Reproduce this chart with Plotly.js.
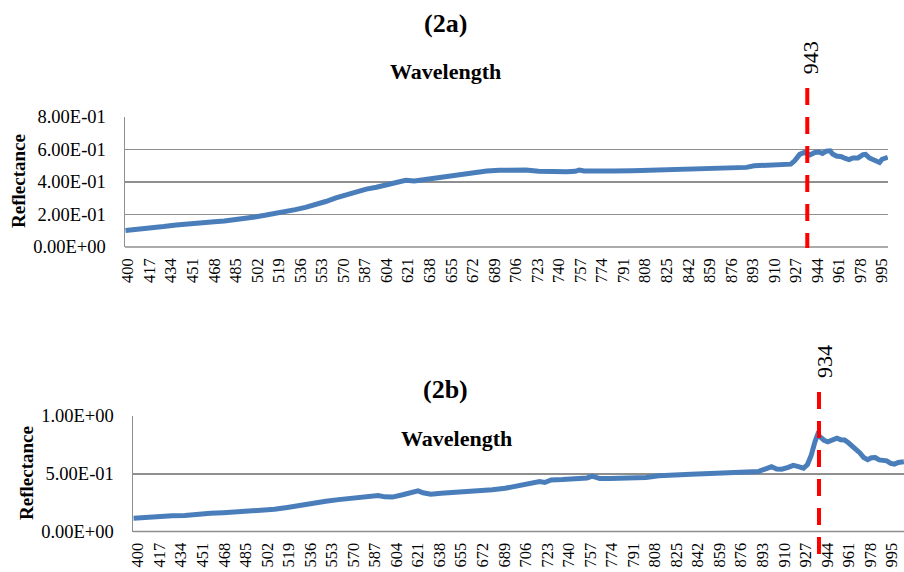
<!DOCTYPE html>
<html>
<head>
<meta charset="utf-8">
<script src="https://cdn.plot.ly/plotly-3.0.1.min.js"></script>
<style>html,body{margin:0;padding:0;background:#fff;}#chart{width:904px;height:572px;}</style>
</head>
<body>
<div id="chart"></div>
<script>
// ---- data ----
const wavelengthA = [398,408,418,428,438,446,453,460,468,476,484,492,500,508,516,524,532,540,548,556,564,572,580,588,596,604,612,619,626,634,643,653,663,673,683,693,703,714,724,735,746,753,756,760,768,783,798,813,828,843,858,873,884,888,894,900,906,912,918,923,926,930,934,938,942,945,948,951,954,956,959,963,966,969,972,976,980,982,985,988,991,993,995,999.5];
const reflectanceA = [0.102,0.108,0.117,0.126,0.136,0.143,0.148,0.151,0.155,0.160,0.166,0.175,0.185,0.195,0.205,0.217,0.230,0.244,0.260,0.280,0.302,0.322,0.342,0.356,0.368,0.385,0.400,0.410,0.406,0.415,0.428,0.440,0.452,0.462,0.468,0.472,0.474,0.474,0.466,0.462,0.463,0.466,0.474,0.468,0.466,0.467,0.469,0.472,0.474,0.475,0.478,0.481,0.484,0.490,0.500,0.502,0.504,0.508,0.506,0.510,0.530,0.570,0.583,0.566,0.582,0.585,0.576,0.590,0.592,0.572,0.560,0.556,0.545,0.538,0.548,0.548,0.568,0.570,0.548,0.535,0.527,0.520,0.540,0.552];

const wavelengthB = [396.5,406.6,416.7,426.8,437.0,447.1,457.2,467.3,477.4,487.5,497.6,507.7,517.8,527.9,538.1,548.2,558.3,568.4,578.5,584.6,589.6,594.7,600.8,608.9,617.0,621.0,625.0,631.1,639.2,649.3,659.4,669.5,679.6,689.7,699.8,709.9,717.0,721.0,726.1,735.2,745.3,754.4,758.5,764.5,772.6,785.8,800.9,811.1,821.2,836.4,851.5,866.7,881.8,889.9,896.0,900.0,904.0,908.1,913.2,917.2,921.3,925.3,928.4,931.4,934.4,936.4,938.4,941.5,944.5,948.5,951.6,954.6,957.7,960.7,963.7,966.8,969.8,972.8,975.9,978.9,981.9,985.0,988.0,991.0,994.1,997.1,1000.1,1004.5];
const reflectanceB = [0.115,0.125,0.130,0.136,0.138,0.150,0.158,0.163,0.168,0.175,0.182,0.192,0.208,0.228,0.248,0.262,0.276,0.288,0.296,0.302,0.312,0.300,0.298,0.318,0.340,0.352,0.335,0.322,0.332,0.338,0.345,0.352,0.362,0.374,0.392,0.410,0.432,0.424,0.446,0.450,0.456,0.464,0.480,0.458,0.458,0.462,0.468,0.482,0.490,0.496,0.502,0.508,0.513,0.520,0.545,0.562,0.542,0.540,0.555,0.572,0.562,0.548,0.580,0.660,0.780,0.838,0.820,0.790,0.776,0.798,0.808,0.795,0.792,0.768,0.740,0.715,0.680,0.640,0.622,0.638,0.640,0.620,0.614,0.612,0.590,0.584,0.598,0.604];

const xTickVals = [400,417,434,451,468,485,502,519,536,553,570,587,604,621,638,655,672,689,706,723,740,757,774,791,808,825,842,859,876,893,910,927,944,961,978,995];
const yTickValsA = [0,0.2,0.4,0.6,0.8];
const yTickTextA = ["0.00E+00","2.00E-01","4.00E-01","6.00E-01","8.00E-01"];
const yTickValsB = [0,0.5,1.0];
const yTickTextB = ["0.00E+00","5.00E-01","1.00E+00"];
const markerA = 936, markerLabelA = "943";
const markerB = 937.5, markerLabelB = "934";

// ---- styling ----
const W = 904, H = 572;
const px = v => v / W;
const py = v => 1 - v / H;
const serif = "Liberation Serif, Times New Roman, serif";
const gridCol = "#8f8f8f";
const lineCol = "#4a7ebb";

const xCommon = {
  tickvals: xTickVals, ticktext: xTickVals.map(String), tickangle: -90,
  tickfont: {family: serif, size: 16.5, color: "#000"},
  showgrid: false, zeroline: false, showline: false, ticks: "",
  ticklabelstandoff: 7, ticklabeloverflow: "allow", fixedrange: true
};
const yCommon = {
  tickfont: {family: serif, size: 18.5, color: "#000"},
  showgrid: true, gridcolor: gridCol, gridwidth: 1.5,
  zeroline: false, showline: true, linecolor: gridCol, linewidth: 1.5,
  ticks: "", ticklabelstandoff: 14, fixedrange: true
};

const traces = [
  {x: wavelengthA, y: reflectanceA, type: "scatter", mode: "lines", xaxis: "x", yaxis: "y",
   line: {color: lineCol, width: 5}, hoverinfo: "skip"},
  {x: wavelengthB, y: reflectanceB, type: "scatter", mode: "lines", xaxis: "x2", yaxis: "y2",
   line: {color: lineCol, width: 5}, hoverinfo: "skip"}
];

function ann(text, xref, x, y, size, angle, extra) {
  return Object.assign({text: text, xref: xref, yref: "paper", x: x, y: y,
    xanchor: "center", yanchor: "middle", showarrow: false, textangle: angle || 0,
    font: {family: serif, size: size, color: "#000"}}, extra || {});
}

const layout = {
  width: W, height: H,
  margin: {l: 0, r: 0, t: 0, b: 0},
  paper_bgcolor: "#fff", plot_bgcolor: "#fff",
  showlegend: false,
  xaxis: Object.assign({}, xCommon, {domain: [px(125), px(888)], range: [397.6, 999.7], anchor: "y"}),
  yaxis: Object.assign({}, yCommon, {domain: [py(247), py(117)], range: [0, 0.8], tickvals: yTickValsA, ticktext: yTickTextA, anchor: "x"}),
  xaxis2: Object.assign({}, xCommon, {domain: [px(133), px(904)], range: [396.05, 1004.6], anchor: "y2"}),
  yaxis2: Object.assign({}, yCommon, {domain: [py(531.5), py(416)], range: [0, 1.0], tickvals: yTickValsB, ticktext: yTickTextB, anchor: "x2"}),
  shapes: [
    {type: "line", xref: "x", yref: "paper", x0: markerA, x1: markerA, y0: py(88), y1: py(248),
     line: {color: "#ff0000", width: 4, dash: "17px,12px"}},
    {type: "line", xref: "x2", yref: "paper", x0: markerB, x1: markerB, y0: py(392), y1: py(556),
     line: {color: "#ff0000", width: 4, dash: "17px,12px"}},
    {type: "line", xref: "paper", yref: "paper", x0: px(125), x1: px(888), y0: py(247), y1: py(247), line: {color: gridCol, width: 1.5}, layer: "below"},
    {type: "line", xref: "paper", yref: "paper", x0: px(133), x1: px(904), y0: py(531.5), y1: py(531.5), line: {color: gridCol, width: 1.5}, layer: "below"}
  ],
  annotations: [
    ann("<b>(2a)</b>", "paper", px(445), py(23), 26),
    ann("<b>Wavelength</b>", "paper", px(445), py(72), 22),
    ann("<b>Reflectance</b>", "paper", px(18), py(181), 19, -90),
    ann(markerLabelA, "x", markerA, py(58), 22, -90, {xshift: 4}),
    ann("<b>(2b)</b>", "paper", px(445), py(389), 26),
    ann("<b>Wavelength</b>", "paper", px(456), py(438), 22),
    ann("<b>Reflectance</b>", "paper", px(27), py(473), 19, -90),
    ann(markerLabelB, "x2", markerB, py(361), 22, -90, {xshift: 5})
  ]
};

Plotly.newPlot("chart", traces, layout, {displayModeBar: false, staticPlot: true});
</script>
</body>
</html>
